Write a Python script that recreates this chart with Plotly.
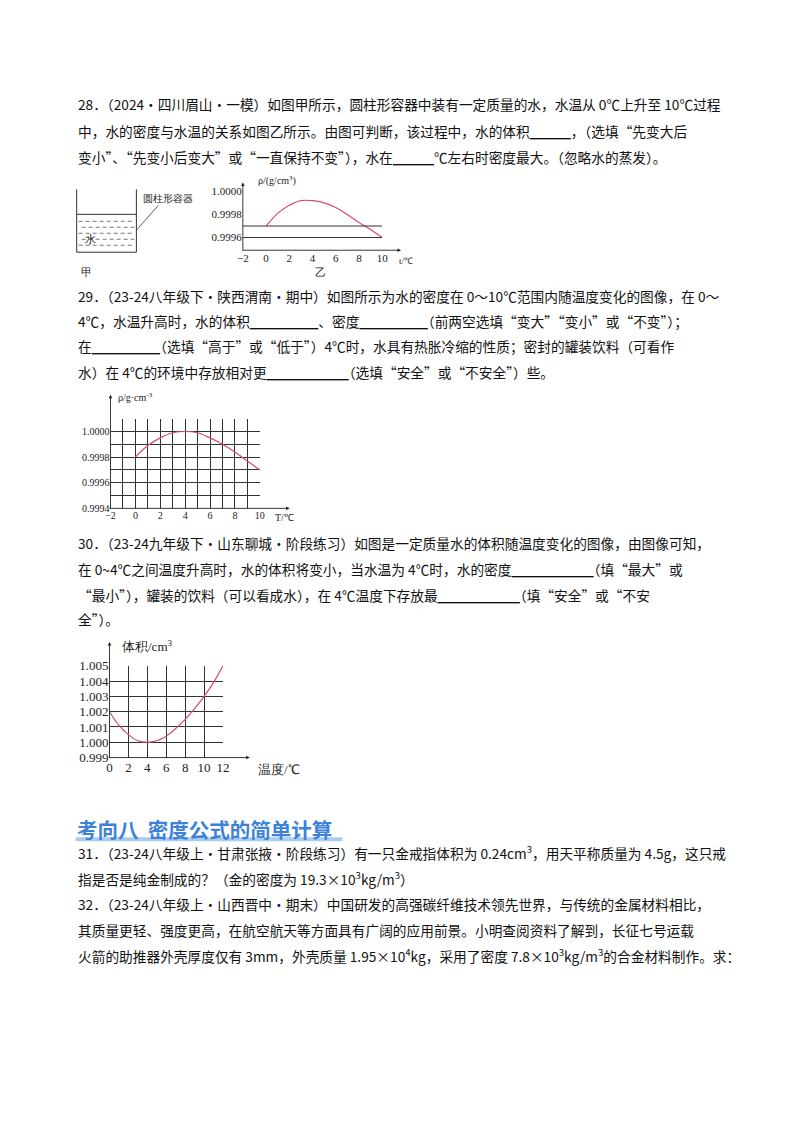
import plotly.graph_objects as go

# chart 乙 (question 28)
t1 = [0, 1, 2, 3, 4, 5, 6, 7, 8, 9, 10]
rho1 = [0.99970, 0.99981, 0.99988, 0.99992, 0.99992, 0.99990, 0.99986, 0.99980, 0.99973, 0.99967, 0.99960]
ref_lines1 = [0.9997, 0.9996]

# chart for question 29
t2 = [0, 1, 2, 3, 4, 5, 6, 7, 8, 9, 10]
rho2 = [0.99980, 0.99989, 0.99995, 0.99999, 1.00000, 0.99999, 0.99995, 0.99990, 0.99984, 0.99977, 0.99970]

# chart for question 30
t3 = [0, 1, 2, 3, 4, 5, 6, 7, 8, 9, 10, 11, 12]
vol3 = [1.0020, 1.0011, 1.0005, 1.0001, 1.0000, 1.0001, 1.0004, 1.0009, 1.0015, 1.0022, 1.0030, 1.0039, 1.0050]

lines = [
    (104, "28．（2024·四川眉山·一模）如图甲所示，圆柱形容器中装有一定质量的水，水温从 0℃上升至 10℃过程"),
    (131, "中，水的密度与水温的关系如图乙所示。由图可判断，该过程中，水的体积<u>　　　</u>，（选填“先变大后"),
    (157, "变小”、“先变小后变大”或“一直保持不变”），水在<u>　　　</u>℃左右时密度最大。（忽略水的蒸发）。"),
    (297, "29．（23-24八年级下·陕西渭南·期中）如图所示为水的密度在 0～10℃范围内随温度变化的图像，在 0～"),
    (322, "4℃，水温升高时，水的体积<u>　　　　　</u>、密度<u>　　　　　</u>（前两空选填“变大”“变小”或“不变”）；"),
    (347, "在<u>　　　　　</u>（选填“高于”或“低于”）4℃时，水具有热胀冷缩的性质；密封的罐装饮料（可看作"),
    (373, "水）在 4℃的环境中存放相对更<u>　　　　　　</u>（选填“安全”或“不安全”）些。"),
    (545, "30．（23-24九年级下·山东聊城·阶段练习）如图是一定质量水的体积随温度变化的图像，由图像可知，"),
    (571, "在 0~4℃之间温度升高时，水的体积将变小，当水温为 4℃时，水的密度<u>　　　　　　</u>（填“最大”或"),
    (597, "“最小”），罐装的饮料（可以看成水），在 4℃温度下存放最<u>　　　　　　</u>（填“安全”或“不安"),
    (621, "全”）。"),
    (855, "31．（23-24八年级上·甘肃张掖·阶段练习）有一只金戒指体积为 0.24cm<sup>3</sup>，用天平称质量为 4.5g，这只戒"),
    (881, "指是否是纯金制成的？（金的密度为 19.3×10<sup>3</sup>kg/m<sup>3</sup>）"),
    (907, "32．（23-24八年级上·山西晋中·期末）中国研发的高强碳纤维技术领先世界，与传统的金属材料相比，"),
    (933, "其质量更轻、强度更高，在航空航天等方面具有广阔的应用前景。小明查阅资料了解到，长征七号运载"),
    (959, "火箭的助推器外壳厚度仅有 3mm，外壳质量 1.95×10<sup>4</sup>kg，采用了密度 7.8×10<sup>3</sup>kg/m<sup>3</sup>的合金材料制作。求："),
]

W, H = 800, 1132
PINK = "#d9477a"
SERIF = "Liberation Serif"
CJK = "Noto Sans CJK SC"

# the rendered page came out shifted by ~15px and scaled ~0.99, compensate
OFF, SC = 15, 0.99


def px(x):
    return (x - OFF) / SC / W


def py(y):
    return 1 - (y - OFF) / SC / H


fig = go.Figure()
fig.add_trace(go.Scatter(x=t1, y=rho1, mode="lines", line=dict(color=PINK, width=1.2, shape="spline"),
                         xaxis="x", yaxis="y", showlegend=False))
for v in ref_lines1:
    fig.add_trace(go.Scatter(x=[-2, 10], y=[v, v], mode="lines", line=dict(color="#333", width=1),
                             xaxis="x", yaxis="y", showlegend=False))
fig.add_trace(go.Scatter(x=t2, y=rho2, mode="lines", line=dict(color=PINK, width=1.2, shape="spline"),
                         xaxis="x2", yaxis="y2", showlegend=False))
fig.add_trace(go.Scatter(x=t3, y=vol3, mode="lines", line=dict(color=PINK, width=1.2, shape="spline"),
                         xaxis="x3", yaxis="y3", showlegend=False))

tickfont = dict(family=SERIF, size=11, color="#222")
ann = []
for y, s in lines:
    ann.append(dict(x=px(77), y=py(y), xref="paper", yref="paper", text=s, showarrow=False,
                    xanchor="left", yanchor="middle", font=dict(family=CJK, size=13.7, color="#111")))

ann.append(dict(x=px(76), y=py(832), xref="paper", yref="paper", text="<b>考向八  密度公式的简单计算</b>",
                showarrow=False, xanchor="left", yanchor="middle",
                font=dict(family=CJK, size=20.5, color="#3d82d8")))

# chart labels
extra = [
    (258, 181, "ρ/(g/cm<sup>3</sup>)", 10, "left"),
    (400, 262, "t/℃", 9, "left"),
    (88, 273, "甲", 11, "center"),
    (323, 273, "乙", 11, "center"),
    (143, 199, "圆柱形容器", 10, "left"),
    (92, 240, "水", 11, "center"),
    (118, 398, "ρ/g·cm<sup>-3</sup>", 10, "left"),
    (275, 519, "T/℃", 10, "left"),
    (122, 648, "体积/cm<sup>3</sup>", 13, "left"),
    (258, 772, "温度/℃", 13, "left"),
]
for x, y, s, sz, anc in extra:
    ann.append(dict(x=px(x), y=py(y), xref="paper", yref="paper", text=s, showarrow=False,
                    xanchor=anc, yanchor="middle", font=dict(family=SERIF, size=sz, color="#222")))

shapes = [
    dict(type="rect", xref="paper", yref="paper", x0=px(77), x1=px(345), y0=py(844), y1=py(840),
         fillcolor="#a9cdf2", line=dict(width=0)),
    # container 甲
    dict(type="path", xref="paper", yref="paper",
         path=f"M {px(78)} {py(190)} L {px(78)} {py(253)} L {px(138)} {py(253)} L {px(138)} {py(190)}",
         line=dict(color="#333", width=1)),
    dict(type="line", xref="paper", yref="paper", x0=px(78), x1=px(138), y0=py(215), y1=py(215),
         line=dict(color="#333", width=1)),
    dict(type="line", xref="paper", yref="paper", x0=px(138), x1=px(160), y0=py(231), y1=py(206),
         line=dict(color="#333", width=0.8)),
]
for i, yy in enumerate(range(222, 252, 6)):
    off = 3 if i % 2 else 0
    shapes.append(dict(type="line", xref="paper", yref="paper", x0=px(80 + off), x1=px(136), y0=py(yy), y1=py(yy),
                       line=dict(color="#555", width=0.8, dash="4px,3px")))

# axis arrows
arrows = [
    (245, 251, 404, 251), (245, 251, 245, 183),
    (112, 510, 292, 510), (112, 510, 112, 396),
    (111, 760, 252, 760), (111, 760, 111, 644),
]
for x0, y0, x1, y1 in arrows:
    ann.append(dict(x=px(x1), y=py(y1), ax=(x0 - x1) / SC, ay=(y0 - y1) / SC, xref="paper", yref="paper",
                    axref="pixel", ayref="pixel", text="", showarrow=True, arrowhead=2,
                    arrowsize=0.8, arrowwidth=0.9, arrowcolor="#222"))

grid = dict(showgrid=True, gridcolor="#333", gridwidth=0.8, zeroline=False, showline=False, ticks="")
fig.update_layout(
    width=W, height=H, margin=dict(l=0, r=0, t=0, b=0),
    paper_bgcolor="white", plot_bgcolor="rgba(0,0,0,0)",
    annotations=ann, shapes=shapes,
    xaxis=dict(domain=[px(245), px(385)], range=[-2, 10], tickvals=[-2, 0, 2, 4, 6, 8, 10], anchor="y",
               showgrid=False, zeroline=False, showline=False, tickfont=tickfont, ticks=""),
    yaxis=dict(domain=[py(251), py(192)], range=[0.99949, 1.0], tickvals=[0.9996, 0.9998, 1.0], anchor="x",
               ticktext=["0.9996", "0.9998", "1.0000"], showgrid=False, zeroline=False,
               showline=False, tickfont=tickfont, ticks=""),
    xaxis2=dict(domain=[px(112), px(262)], range=[-2, 10], tickvals=[-2, 0, 2, 4, 6, 8, 10], anchor="y2",
                minor=dict(dtick=1, tick0=0, showgrid=True, gridcolor="#333", gridwidth=0.8),
                tickfont=dict(family=SERIF, size=10, color="#222"), **grid),
    yaxis2=dict(domain=[py(510), py(420)], range=[0.9994, 1.0001], anchor="x2",
                tickvals=[0.9994, 0.9996, 0.9998, 1.0], ticktext=["0.9994", "0.9996", "0.9998", "1.0000"],
                minor=dict(dtick=0.0001, tick0=0.9994, showgrid=True, gridcolor="#333", gridwidth=0.8),
                tickfont=dict(family=SERIF, size=10, color="#222"), **grid),
    xaxis3=dict(domain=[px(111), px(225)], range=[0, 12], dtick=2, anchor="y3",
                tickfont=dict(family=SERIF, size=13, color="#222"), **grid),
    yaxis3=dict(domain=[py(760), py(668)], range=[0.999, 1.005], dtick=0.001, tickformat=".3f", anchor="x3",
                tickfont=dict(family=SERIF, size=13, color="#222"), **grid),
)

fig.write_html("out.html")
